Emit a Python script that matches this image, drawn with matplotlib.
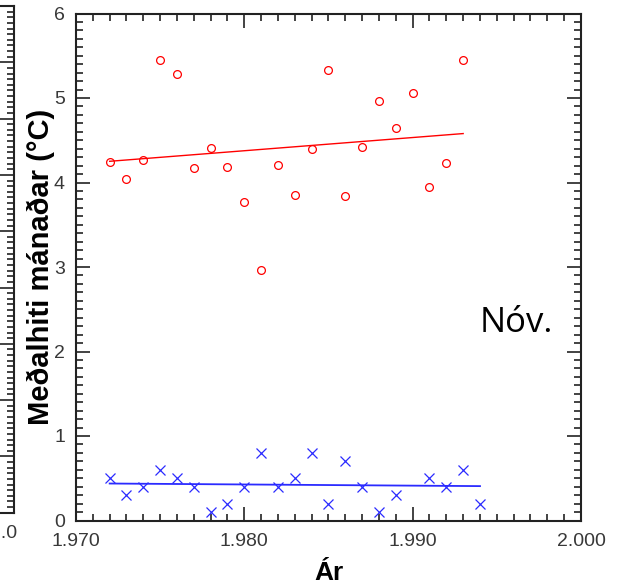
import numpy as np
import matplotlib
matplotlib.use("Agg")
import matplotlib.pyplot as plt
from matplotlib.ticker import MultipleLocator, FuncFormatter
from matplotlib.patches import Rectangle

plt.rcParams["font.family"] = ["Liberation Sans", "DejaVu Sans"]

# November mean temperature, two stations
red_years = list(range(1972, 1994))
red_temp = [4.24, 4.04, 4.27, 5.45, 5.28, 4.17, 4.41, 4.18, 3.77, 2.97, 4.21,
            3.85, 4.40, 5.33, 3.84, 4.42, 4.96, 4.65, 5.06, 3.95, 4.23, 5.45]
blue_years = list(range(1972, 1990)) + [1991, 1992, 1993, 1994]
blue_temp = [0.5, 0.3, 0.4, 0.6, 0.5, 0.4, 0.1, 0.2, 0.4, 0.8, 0.4,
             0.5, 0.8, 0.2, 0.7, 0.4, 0.1, 0.3, 0.5, 0.4, 0.6, 0.2]

RED = "#ff0000"
BLUE = "#2b2bff"
SPINE = "#222222"
TICKTXT = "#383838"

W, H = 619, 584
fig = plt.figure(figsize=(W / 100, H / 100), dpi=100)


def px(x0, y0, x1, y1):
    # pixel box (top-left origin) -> figure fraction rect
    return [x0 / W, 1 - y1 / H, (x1 - x0) / W, (y1 - y0) / H]


def year_fmt(v, _):
    return f"{int(round(v)):,}".replace(",", ".")


# fragment of the neighbouring panel on the far left
frag = fig.add_axes(px(-300, 6, 14, 512.7), zorder=1)
frag.set_xlim(0, 1)
frag.set_ylim(0, 9)
frag.set_xticks([1])
frag.set_xticklabels(["2.000"])
frag.yaxis.set_major_locator(MultipleLocator(1))
frag.yaxis.set_minor_locator(MultipleLocator(0.1))
frag.tick_params(axis="y", which="both", direction="in", left=False, right=True,
                 labelleft=False, color=SPINE, width=1.2)
frag.tick_params(axis="y", which="major", length=10)
frag.tick_params(axis="y", which="minor", length=5)
frag.tick_params(axis="x", length=0, pad=9, labelsize=14, labelcolor=TICKTXT)
for s in frag.spines.values():
    s.set_color(SPINE)
    s.set_linewidth(1.5)

# white cover so the fragment is cut off where the main panel begins
fig.patches.append(Rectangle((17 / W, 0), 1, 1, transform=fig.transFigure,
                             facecolor="white", edgecolor="none", zorder=2))

ax = fig.add_axes(px(76, 13.5, 581, 520.5), zorder=3)
ax.plot(red_years, red_temp, "o", ms=5.6, mfc="none", mec=RED, mew=0.9)
ax.plot(blue_years, blue_temp, "x", ms=7.5, color=BLUE, mew=0.9)

for yrs, vals, col, lw in [(red_years, red_temp, RED, 1.0),
                           (blue_years, blue_temp, BLUE, 1.3)]:
    k, b = np.polyfit(yrs, vals, 1)
    xs = np.array([yrs[0], yrs[-1]])
    ax.plot(xs, k * xs + b, "-", color=col, lw=lw)

ax.set_xlim(1970, 2000)
ax.set_ylim(0, 6)
ax.xaxis.set_major_locator(MultipleLocator(10))
ax.xaxis.set_minor_locator(MultipleLocator(1))
ax.yaxis.set_major_locator(MultipleLocator(1))
ax.yaxis.set_minor_locator(MultipleLocator(0.1))
ax.xaxis.set_major_formatter(FuncFormatter(year_fmt))
ax.yaxis.set_major_formatter(FuncFormatter(lambda v, _: f"{int(round(v))}"))
ax.tick_params(which="both", direction="in", top=True, right=True,
               color=SPINE, width=1.2, labelsize=14, labelcolor=TICKTXT)
ax.tick_params(which="major", length=10)
ax.tick_params(which="minor", length=5)
ax.tick_params(axis="x", pad=9)
ax.tick_params(axis="y", pad=8)
for s in ax.spines.values():
    s.set_color(SPINE)
    s.set_linewidth(1.5)

fig.text(41 / W, 1 - 267 / H, "Meðalhiti mánaðar (°C)", rotation=90,
         ha="center", va="center", fontsize=21, fontweight="bold", zorder=4)
fig.text(328.5 / W, 1 - 580 / H, "Ár", ha="center", va="baseline",
         fontsize=19, fontweight="bold", zorder=4)
fig.text(480 / W, 1 - 332 / H, "Nóv.", ha="left", va="baseline",
         fontsize=25, family="Open Sans", zorder=4)

fig.savefig("out.png", dpi=100)
